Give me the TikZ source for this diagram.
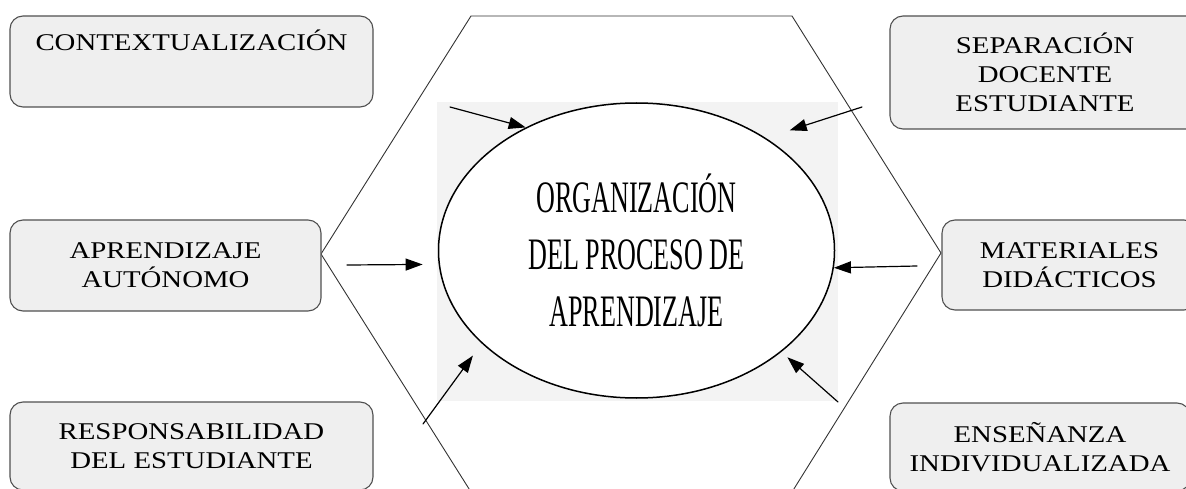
\documentclass[tikz,border=0pt]{standalone}
\usepackage{fontspec}
\setmainfont{Liberation Serif}
\newfontfamily\boxfont[FakeStretch=1.2]{Liberation Serif}
\newfontfamily\orgfont[FakeStretch=0.58]{Liberation Serif}
\usetikzlibrary{arrows.meta,shapes.geometric}
\definecolor{boxgray}{HTML}{EFEFEF}
\definecolor{backgray}{HTML}{F3F3F3}
\definecolor{edgegray}{HTML}{505050}
\begin{document}
\begin{tikzpicture}[x=1pt,y=-1pt,line join=round,line cap=round,
  caja/.style={draw=edgegray,fill=boxgray,line width=1.1pt,rounded corners=13pt,inner sep=0pt,
    align=center,font=\boxfont\fontsize{24}{29}\selectfont},
  flecha/.style={-{Triangle[length=17pt,width=12pt]},line width=1.2pt}]
\def\W{1186}\def\H{489}
\useasboundingbox (0,0) rectangle (\W,\H);
\clip (0,0) rectangle (\W,\H);
\fill[backgray] (437,102) rectangle (838,401);
\draw[black!80,line width=0.9pt] (321,254)--(471,16)--(792,16)--(941,253)--(792,492)--(471,492)--cycle;
\node[caja,minimum width=363pt,text height=35pt,text depth=56pt] (ctx) at (191.5,61.5) {CONTEXTUALIZACIÓN};
\node[caja,minimum width=310pt,minimum height=113pt] (sep) at (1045,72.5) {SEPARACIÓN\\DOCENTE\\ESTUDIANTE};
\node[caja,minimum width=311pt,minimum height=91pt] (apr) at (165.5,265.5) {APRENDIZAJE\\AUTÓNOMO};
\node[caja,minimum width=255pt,minimum height=90pt] (mat) at (1069.5,265) {MATERIALES\\DIDÁCTICOS};
\node[caja,minimum width=363pt,minimum height=88pt] (res) at (191.5,446) {RESPONSABILIDAD\\DEL ESTUDIANTE};
\node[caja,minimum width=300pt,minimum height=88pt] (ens) at (1040,447) {ENSEÑANZA\\INDIVIDUALIZADA};
\node[ellipse,draw,line width=1.5pt,fill=white,minimum width=396pt,minimum height=295pt,inner sep=0pt,
  align=center,font=\orgfont\fontsize{45}{57}\selectfont] (org) at (636.5,250.5)
  {ORGANIZACIÓN\\DEL PROCESO DE\\APRENDIZAJE};
\coordinate (p1) at (450,107);
\coordinate (p2) at (862,107);
\coordinate (p3) at (347,265);
\coordinate (p4) at (917,266);
\coordinate (p5) at (423,424);
\coordinate (p6) at (838,402);
\foreach \p/\a/\s in {p1/132.8/0,p2/41.8/25,p3/184.2/16,p4/355.6/0,p5/211.8/15,p6/325/8}
  \draw[flecha,shorten >=\s pt] (\p) -- (org.\a);
\end{tikzpicture}
\end{document}
